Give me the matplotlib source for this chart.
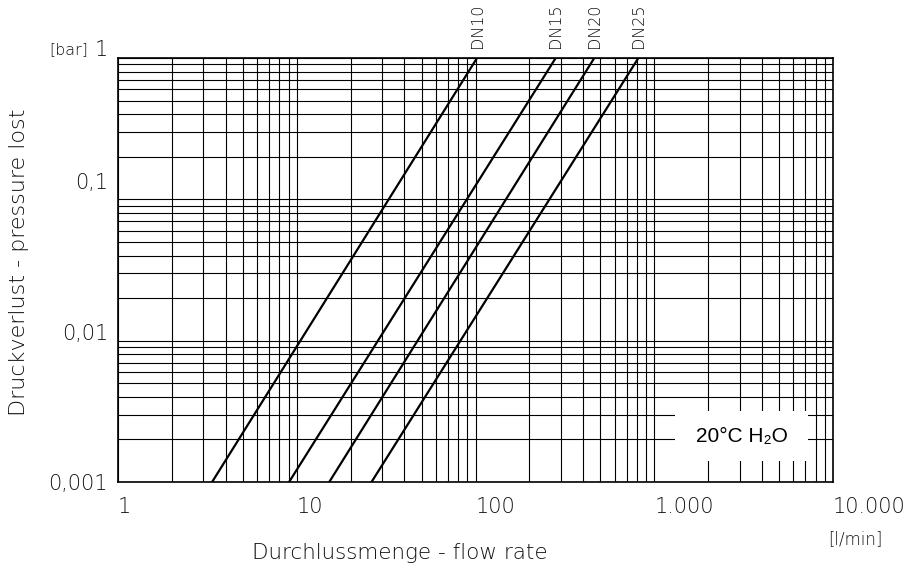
import matplotlib
matplotlib.use("Agg")
import matplotlib.pyplot as plt
from matplotlib.patches import Rectangle
from matplotlib.ticker import LogLocator, NullFormatter

# Flow rate [l/min] at which each line crosses 0.001 bar and 1 bar
series = ["DN10", "DN15", "DN20", "DN25"]
flow_at_low = [3.36, 9.06, 15.2, 26.2]
flow_at_high = [102, 281, 462, 815]
dp_low, dp_high = 0.001, 1.0

x_ticks = [1, 10, 100, 1000, 10000]
x_labels = ["1", "10", "100", "1.000", "10.000"]
y_ticks = [1, 0.1, 0.01, 0.001]
y_labels = ["1", "0,1", "0,01", "0,001"]

txt = "#111111"
font = ["DejaVu Sans"]
wt = "light"

fig = plt.figure(figsize=(9.09, 5.69), dpi=100)
ax = fig.add_axes([118 / 909, 1 - 482 / 569, 715 / 909, 424 / 569])
ax.set_xscale("log")
ax.set_yscale("log")
ax.set_xlim(1, 10000)
ax.set_ylim(0.001, 1)

ax.xaxis.set_major_locator(LogLocator(base=10, subs=range(1, 10), numticks=50))
ax.yaxis.set_major_locator(LogLocator(base=10, subs=range(1, 10), numticks=50))
ax.xaxis.set_minor_locator(LogLocator(base=10, subs=[], numticks=50))
ax.yaxis.set_minor_locator(LogLocator(base=10, subs=[], numticks=50))
ax.xaxis.set_major_formatter(NullFormatter())
ax.yaxis.set_major_formatter(NullFormatter())
ax.tick_params(which="both", length=0)
ax.grid(True, which="major", color="black", linewidth=0.8)
for s in ax.spines.values():
    s.set_linewidth(1.2)
    s.set_color("black")

for name, q0, q1 in zip(series, flow_at_low, flow_at_high):
    ax.plot([q0, q1], [dp_low, dp_high], color="black", linewidth=1.6, zorder=3)
    ax.text(q1, 1.024, name, transform=ax.get_xaxis_transform(), rotation=90,
            ha="center", va="bottom", fontsize=11.5, color=txt, family=font, weight=wt)

# x tick labels, left aligned at grid lines
for v, lab in zip(x_ticks, x_labels):
    ax.text(v, -0.035, lab, transform=ax.get_xaxis_transform(), ha="left", va="top",
            fontsize=15, color=txt, family=font, weight=wt)

# y tick labels (offsets in pixels from the grid line, as in the drawing)
y_shift = [8, 16, 7, -2]
for v, lab, dy in zip(y_ticks, y_labels, y_shift):
    ax.annotate(lab, xy=(-0.014, v), xycoords=ax.get_yaxis_transform(),
                xytext=(0, dy * 0.72), textcoords="offset points",
                ha="right", va="center", fontsize=15, color=txt, family=font, weight=wt)
ax.annotate("[bar]", xy=(-0.042, 1), xycoords=ax.get_yaxis_transform(),
            xytext=(0, 6), textcoords="offset points",
            ha="right", va="center", fontsize=11.5, color=txt, family=font, weight=wt)

# label box
ax.add_patch(Rectangle((0.779, 0.0495), 0.186, 0.118, transform=ax.transAxes,
                       facecolor="white", edgecolor="none", zorder=4))
ax.text(0.872, 0.108, "20°C H₂O", transform=ax.transAxes, ha="center", va="center",
        fontsize=15, color="black", family=["Liberation Sans", "DejaVu Sans"], zorder=5)

fig.text(400 / 909, 1 - 553 / 569, "Durchlussmenge - flow rate", ha="center", va="center",
         fontsize=15.5, color=txt, family=font, weight=wt)
fig.text(855 / 909, 1 - 539 / 569, "[l/min]", ha="center", va="center",
         fontsize=12, color=txt, family=font, weight=wt)
fig.text(19 / 909, 1 - 262 / 569, "Druckverlust - pressure lost", rotation=90,
         ha="center", va="center", fontsize=16, color=txt, family=font, weight=wt)

fig.savefig("out.png", dpi=100)
